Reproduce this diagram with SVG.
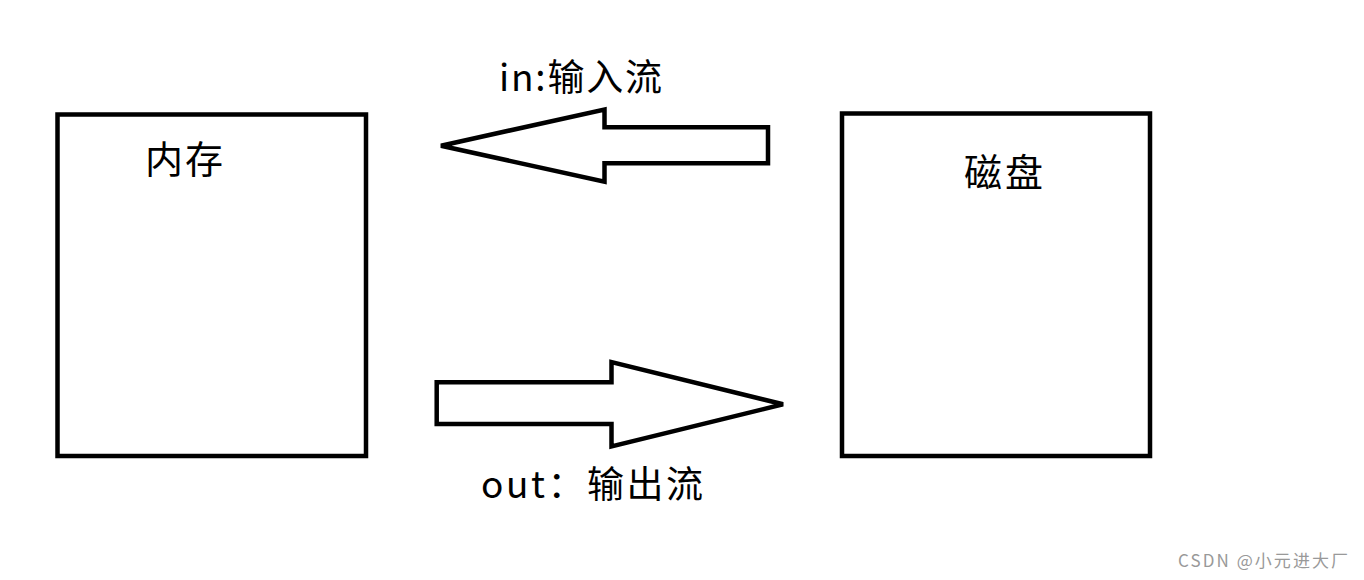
<svg xmlns="http://www.w3.org/2000/svg" width="1364" height="580" viewBox="0 0 1364 580">
<style>
.box{fill:#fff;stroke:#000;stroke-width:4.5}
.arrow{fill:#fff;stroke:#000;stroke-width:4.5;stroke-linejoin:miter}
.lbl{font-family:"Microsoft YaHei","Noto Sans CJK SC","Noto Sans",sans-serif;fill:#000}
.wm{font-family:"Noto Sans CJK SC","Noto Sans",sans-serif;fill:#999;font-size:17px}
</style>
<rect width="1364" height="580" fill="#fff"/>
<g id="memory">
<rect class="box" x="57.5" y="114.5" width="308.5" height="341.5"/>
<text class="lbl" x="145" y="173" font-size="38" textLength="78">内存</text>
</g>
<g id="disk">
<rect class="box" x="842" y="113.5" width="308" height="342.5"/>
<text class="lbl" x="964" y="186" font-size="38" textLength="79">磁盘</text>
</g>
<g id="connectors">
<g id="in-flow">
<polygon class="arrow" points="441,145.7 604.5,109.5 604.5,127.3 768,127.3 768,163.3 604.5,163.3 604.5,181.7"/>
<text class="lbl" x="499" y="91" font-size="37" textLength="163">in:输入流</text>
</g>
<g id="out-flow">
<polygon class="arrow" points="436.7,382.3 611.5,382.3 611.5,362 783,404.3 611.5,446.5 611.5,424 436.7,424"/>
<text class="lbl" x="481" y="498" font-size="37" textLength="222">out：输出流</text>
</g>
</g>
<text class="wm" x="1178" y="567" textLength="170">CSDN @小元进大厂</text>
</svg>
